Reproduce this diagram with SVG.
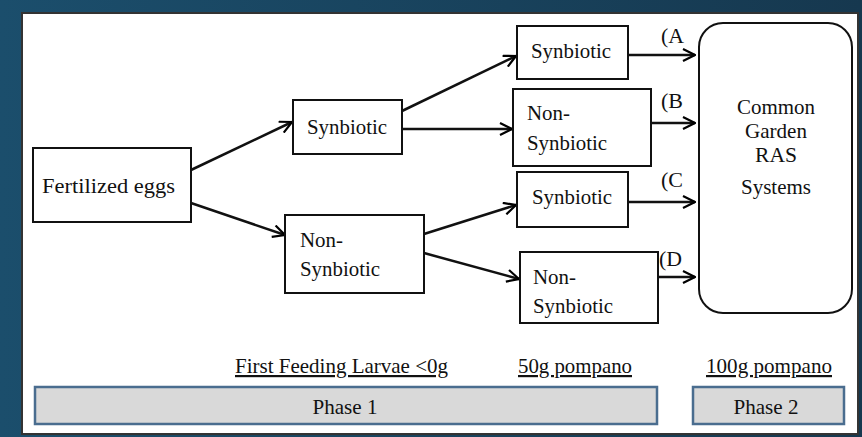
<svg xmlns="http://www.w3.org/2000/svg" width="862" height="437" viewBox="0 0 862 437" font-family="'Liberation Serif', 'Times New Roman', serif">
<defs>
<linearGradient id="bg" x1="0" y1="0" x2="1" y2="0">
<stop offset="0" stop-color="#1b4e6c"/>
<stop offset="1" stop-color="#16384f"/>
</linearGradient>
<marker id="ah" viewBox="0 0 14 14" refX="13" refY="7" markerWidth="14" markerHeight="14" markerUnits="userSpaceOnUse" orient="auto">
<path d="M1,1 L13,7 L1,13" fill="none" stroke="#000" stroke-width="2.2"/>
</marker>
<style>
.box{fill:#fff;stroke:#111;stroke-width:2}
.t{font-family:'Liberation Serif','Times New Roman',serif;font-size:22px;fill:#111}
.c{stroke:#111;stroke-width:2.5;fill:none;marker-end:url(#ah)}
.bar{fill:#d9d9d9;stroke:#4a6d8f;stroke-width:2.5}
.u{text-decoration:underline}
</style>
</defs>
<rect x="0" y="0" width="862" height="437" fill="url(#bg)"/>
<rect x="22" y="13" width="836" height="421" fill="#fff" stroke="#333" stroke-width="2"/>
<g id="connectors">
<line class="c" x1="191" y1="170" x2="292" y2="122"/>
<line class="c" x1="191" y1="203" x2="285" y2="235"/>
<line class="c" x1="402" y1="111" x2="516" y2="56"/>
<line class="c" x1="402" y1="129" x2="512" y2="129"/>
<line class="c" x1="424" y1="234" x2="516" y2="205"/>
<line class="c" x1="424" y1="253" x2="519" y2="279"/>
<line class="c" x1="628" y1="55" x2="695" y2="55"/>
<line class="c" x1="651" y1="123" x2="695" y2="123"/>
<line class="c" x1="628" y1="202" x2="695" y2="202"/>
<line class="c" x1="658" y1="277" x2="695" y2="277"/>
<text class="t" x="661" y="43" textLength="23" lengthAdjust="spacingAndGlyphs">(A</text>
<text class="t" x="661" y="108" textLength="22" lengthAdjust="spacingAndGlyphs">(B</text>
<text class="t" x="661" y="187" textLength="22" lengthAdjust="spacingAndGlyphs">(C</text>
<text class="t" x="659" y="266" textLength="23" lengthAdjust="spacingAndGlyphs">(D</text>
</g>
<g id="eggs">
<rect class="box" x="33" y="148" width="158" height="74"/>
<text class="t" x="42" y="193" textLength="133" lengthAdjust="spacingAndGlyphs">Fertilized eggs</text>
</g>
<g id="syn1">
<rect class="box" x="293" y="100" width="109" height="54"/>
<text class="t" x="307" y="134" textLength="80" lengthAdjust="spacingAndGlyphs">Synbiotic</text>
</g>
<g id="nonsyn1">
<rect class="box" x="285" y="215" width="139" height="78"/>
<text class="t" x="300" y="247" textLength="43" lengthAdjust="spacingAndGlyphs">Non-</text>
<text class="t" x="300" y="276" textLength="80" lengthAdjust="spacingAndGlyphs">Synbiotic</text>
</g>
<g id="nodeA">
<rect class="box" x="517" y="26" width="111" height="53"/>
<text class="t" x="531" y="58" textLength="80" lengthAdjust="spacingAndGlyphs">Synbiotic</text>
</g>
<g id="nodeB">
<rect class="box" x="513" y="89" width="138" height="77"/>
<text class="t" x="527" y="120" textLength="43" lengthAdjust="spacingAndGlyphs">Non-</text>
<text class="t" x="527" y="150" textLength="80" lengthAdjust="spacingAndGlyphs">Synbiotic</text>
</g>
<g id="nodeC">
<rect class="box" x="517" y="172" width="111" height="55"/>
<text class="t" x="532" y="204" textLength="80" lengthAdjust="spacingAndGlyphs">Synbiotic</text>
</g>
<g id="nodeD">
<rect class="box" x="520" y="252" width="138" height="71"/>
<text class="t" x="533" y="284" textLength="43" lengthAdjust="spacingAndGlyphs">Non-</text>
<text class="t" x="533" y="313" textLength="80" lengthAdjust="spacingAndGlyphs">Synbiotic</text>
</g>
<g id="ras">
<rect class="box" x="699" y="23" width="153" height="290" rx="24" ry="24"/>
<text class="t" text-anchor="middle" x="776" y="114" textLength="78" lengthAdjust="spacingAndGlyphs">Common</text>
<text class="t" text-anchor="middle" x="776" y="138" textLength="62" lengthAdjust="spacingAndGlyphs">Garden</text>
<text class="t" text-anchor="middle" x="776" y="162" textLength="42" lengthAdjust="spacingAndGlyphs">RAS</text>
<text class="t" text-anchor="middle" x="776" y="194" textLength="70" lengthAdjust="spacingAndGlyphs">Systems</text>
</g>
<g id="labels">
<text class="t u" x="235" y="373" textLength="213" lengthAdjust="spacingAndGlyphs">First Feeding Larvae &lt;0g</text>
<text class="t u" x="518" y="373" textLength="114" lengthAdjust="spacingAndGlyphs">50g pompano</text>
<text class="t u" x="706" y="373" textLength="126" lengthAdjust="spacingAndGlyphs">100g pompano</text>
</g>
<g id="phase1">
<rect class="bar" x="35" y="387" width="622" height="37"/>
<text class="t" text-anchor="middle" x="345" y="414" textLength="65" lengthAdjust="spacingAndGlyphs">Phase 1</text>
</g>
<g id="phase2">
<rect class="bar" x="693" y="387" width="151" height="37"/>
<text class="t" text-anchor="middle" x="766" y="414" textLength="65" lengthAdjust="spacingAndGlyphs">Phase 2</text>
</g>
</svg>
